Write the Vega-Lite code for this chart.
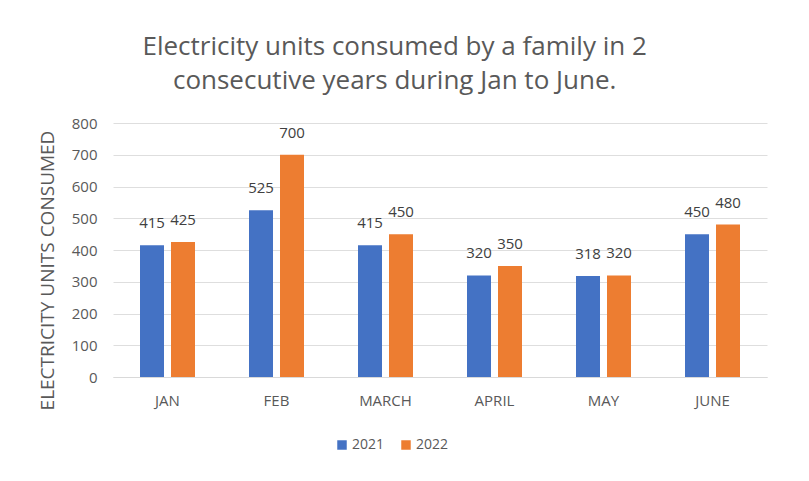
{
  "$schema": "https://vega.github.io/schema/vega-lite/v6.json",
  "autosize": "none",
  "width": 654,
  "height": 254,
  "padding": {"left": 113, "top": 123, "right": 42, "bottom": 104},
  "background": "white",
  "title": {
    "text": ["Electricity units consumed by a family in 2", "consecutive years during Jan to June."],
    "font": "Open Sans",
    "fontSize": 26,
    "fontWeight": "normal",
    "color": "#595959",
    "lineHeight": 34,
    "anchor": "middle",
    "frame": "bounds",
    "offset": 22,
    "dx": -8
  },
  "data": {
    "values": [
      {"month": "JAN", "year": "2021", "units": 415},
      {"month": "JAN", "year": "2022", "units": 425},
      {"month": "FEB", "year": "2021", "units": 525},
      {"month": "FEB", "year": "2022", "units": 700},
      {"month": "MARCH", "year": "2021", "units": 415},
      {"month": "MARCH", "year": "2022", "units": 450},
      {"month": "APRIL", "year": "2021", "units": 320},
      {"month": "APRIL", "year": "2022", "units": 350},
      {"month": "MAY", "year": "2021", "units": 318},
      {"month": "MAY", "year": "2022", "units": 320},
      {"month": "JUNE", "year": "2021", "units": 450},
      {"month": "JUNE", "year": "2022", "units": 480}
    ]
  },
  "encoding": {
    "x": {
      "field": "month", "type": "nominal", "sort": null,
      "scale": {"paddingInner": 0, "paddingOuter": 0},
      "axis": {"title": null, "labelAngle": 0, "ticks": false, "domainColor": "#d9d9d9", "labelFont": "Open Sans", "labelFontSize": 15, "labelColor": "#595959", "labelPadding": 16}
    },
    "xOffset": {"field": "year", "type": "nominal", "scale": {"paddingInner": 0.226, "paddingOuter": 0.871}},
    "y": {
      "field": "units", "type": "quantitative",
      "scale": {"domain": [0, 800], "nice": false},
      "axis": {"title": "ELECTRICITY UNITS CONSUMED", "values": [0,100,200,300,400,500,600,700,800], "labelOverlap": false, "ticks": false, "domain": false, "gridColor": "#dedede", "labelFont": "Open Sans", "labelFontSize": 15, "labelColor": "#595959", "labelPadding": 16, "titleFont": "Open Sans", "titleFontSize": 19, "titleFontWeight": "normal", "titleColor": "#595959", "titlePadding": 14, "titleY": 147}
    },
    "color": {
      "field": "year", "type": "nominal",
      "scale": {"range": ["#4472C4", "#ED7D31"]},
      "legend": {"title": null, "orient": "none", "legendX": 222, "legendY": 315, "direction": "horizontal", "symbolType": "square", "symbolSize": 90, "labelFont": "Open Sans", "labelFontSize": 14, "labelColor": "#595959", "columnPadding": 14, "labelOffset": 3, "symbolStrokeWidth": 0}
    }
  },
  "layer": [
    {"mark": {"type": "bar"}},
    {"mark": {"type": "text", "dy": -22, "font": "Open Sans", "fontSize": 15, "color": "#404040"}, "encoding": {"text": {"field": "units"}, "color": {"value": "#404040"}}}
  ],
  "config": {"view": {"stroke": null}}
}
